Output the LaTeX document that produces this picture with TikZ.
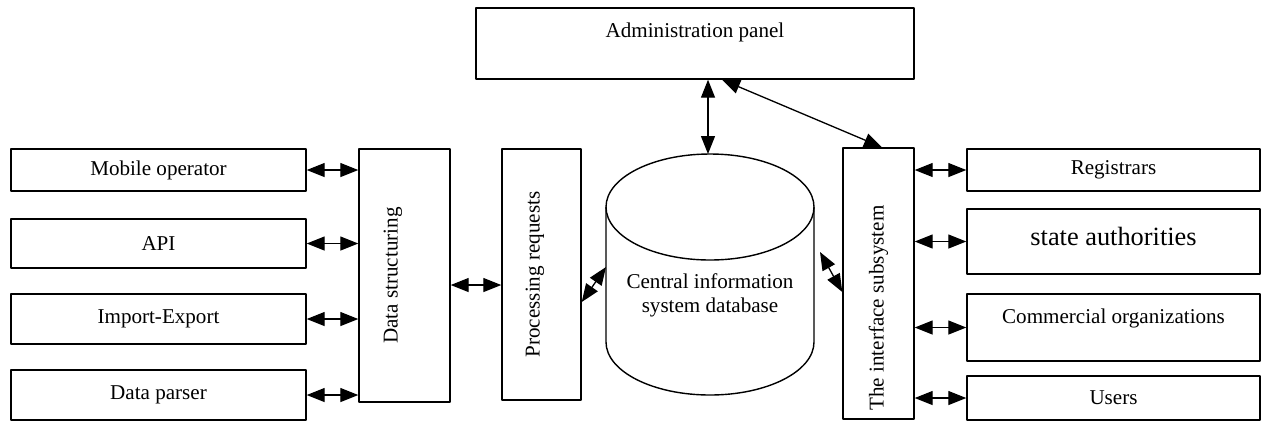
\documentclass[tikz,border=0pt]{standalone}
\usepackage{fontspec}
\setmainfont{Liberation Serif}
\usetikzlibrary{arrows.meta}
\begin{document}
\begin{tikzpicture}[font=\fontsize{12}{14}\selectfont, line join=round,
	box/.style={draw, line width=0.8pt, minimum width=5.9cm, inner sep=0pt},
	link/.style={{Triangle[length=3.6mm,width=2.8mm]}-{Triangle[length=3.6mm,width=2.8mm]}, line width=0.75pt}]
	\useasboundingbox (0,0) rectangle (25.24,-8.42);
	% sources on the left
	\foreach \n/\y/\h/\t in {mob/-3.40/0.84/Mobile operator, api/-4.87/0.98/API, imp/-6.38/1.00/Import-Export, pars/-7.90/1.00/Data parser}
		\node[box, minimum height=\h cm] (\n) at (3.17,\y) {\t};
	% vertical blocks
	\node[box, minimum width=1.82cm, minimum height=5.06cm] (ds) at (8.09,-5.51) {};
	\node[rotate=90] at ([xshift=-0.23cm]ds.center) {Data structuring};
	\node[box, minimum width=1.58cm, minimum height=5.02cm] (proc) at (10.83,-5.49) {};
	\node[rotate=90] at ([xshift=-0.13cm]proc.center) {Processing requests};
	\node[box, minimum width=1.42cm, minimum height=5.42cm] (iface) at (17.57,-5.67) {};
	\node[rotate=90] at ([yshift=-0.49cm]iface.center) {The interface subsystem};
	% database
	\draw[line width=0.8pt] (12.12,-4.14) -- (12.12,-6.84) arc[start angle=180, end angle=360, x radius=2.08cm, y radius=1.06cm] -- (16.28,-4.14);
	\draw[line width=0.8pt] (14.20,-4.14) ellipse [x radius=2.08cm, y radius=1.06cm];
	\node[align=center] (db) at (14.20,-5.91) {Central information\\system database};
	\coordinate (dbtop) at (14.16,-3.08);
	\coordinate (dbl) at (12.12,-5.34);
	\coordinate (dbr) at (16.40,-5.04);
	% admin
	\node[box, minimum width=8.76cm, minimum height=1.42cm] (admin) at (13.90,-0.87) {};
	\node at (13.90,-0.64) {Administration panel};
	% consumers on the right
	\node[box, minimum width=5.86cm, minimum height=0.84cm] (reg) at (22.27,-3.40) {Registrars};
	\node[box, minimum width=5.86cm, minimum height=1.30cm] (state) at (22.27,-4.83) {};
	\node[font=\fontsize{15}{17}\selectfont] at ([yshift=0.11cm]state.center) {state authorities};
	\node[box, minimum width=5.86cm, minimum height=1.34cm] (comm) at (22.27,-6.55) {};
	\node at (22.27,-6.36) {Commercial organizations};
	\node[box, minimum width=5.86cm, minimum height=0.88cm] (users) at (22.27,-7.96) {Users};
	% links
	\foreach \n in {mob,api,imp,pars}
		\draw[link] (\n.east) -- (\n.east -| ds.west);
	\foreach \n in {reg,state,comm,users}
		\draw[link] (\n.west -| iface.east) -- (\n.west);
	\draw[link] (ds.east |- 0,-5.70) -- (proc.west |- 0,-5.70);
	\draw[link] (proc.east |- 0,-6.04) -- (dbl);
	\draw[link] (dbr) -- (iface.west |- 0,-5.84);
	\draw[link] (admin.south -| dbtop) -- (dbtop);
	\draw[link] ([xshift=0.54cm]admin.south) -- ([xshift=0.07cm]iface.north);
\end{tikzpicture}
\end{document}
